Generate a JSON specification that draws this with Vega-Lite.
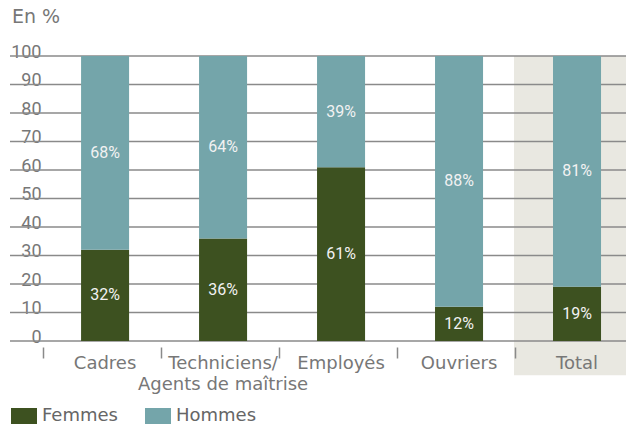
{
  "$schema": "https://vega.github.io/schema/vega-lite/v6.json",
  "width": 616,
  "height": 285,
  "autosize": {"type": "none"},
  "padding": {"left": 10, "top": 56, "right": 0, "bottom": 84},
  "background": "white",
  "config": {
    "view": {"stroke": null},
    "font": "Roboto",
    "axisY": {"grid": false, "domain": false, "ticks": false, "tickSize": 0, "labelAlign": "right", "labelBaseline": "alphabetic", "labelPadding": -31, "labelOffset": 1, "labelFontSize": 18, "labelFont": "Roboto", "labelColor": "#777777", "labelFlush": false, "labelOverlap": false, "zindex": 1}
  },
  "title": {"text": "En %", "anchor": "start", "frame": "group", "fontSize": 19, "font": "DejaVu Sans", "fontWeight": "normal", "color": "#777777", "offset": 16, "dx": 2},
  "data": {"values": [
    {"cat": "Cadres", "sexe": "Femmes", "v": 32, "ord": 1},
    {"cat": "Cadres", "sexe": "Hommes", "v": 68, "ord": 2},
    {"cat": "Techniciens/Agents de maîtrise", "sexe": "Femmes", "v": 36, "ord": 1},
    {"cat": "Techniciens/Agents de maîtrise", "sexe": "Hommes", "v": 64, "ord": 2},
    {"cat": "Employés", "sexe": "Femmes", "v": 61, "ord": 1},
    {"cat": "Employés", "sexe": "Hommes", "v": 39, "ord": 2},
    {"cat": "Ouvriers", "sexe": "Femmes", "v": 12, "ord": 1},
    {"cat": "Ouvriers", "sexe": "Hommes", "v": 88, "ord": 2},
    {"cat": "Total", "sexe": "Femmes", "v": 19, "ord": 1},
    {"cat": "Total", "sexe": "Hommes", "v": 81, "ord": 2}
  ]},
  "encoding": {
    "x": {"field": "cat", "type": "nominal",
      "scale": {"domain": ["Cadres", "Techniciens/Agents de maîtrise", "Employés", "Ouvriers", "Total"], "paddingInner": 0.593, "paddingOuter": 0.407, "align": 0.74},
      "axis": {"title": null, "domain": false, "offset": 6, "tickSize": 11, "tickColor": "#8a8a8a", "tickWidth": 1.5, "bandPosition": -0.78, "labelAngle": 0, "labelFontSize": 18, "labelFont": "DejaVu Sans", "labelColor": "#777777", "labelPadding": -4, "labelLineHeight": 21,
        "labelExpr": "datum.value == 'Techniciens/Agents de maîtrise' ? ['Techniciens/', 'Agents de maîtrise'] : datum.value", "zindex": 1}}
  },
  "layer": [
    {
      "data": {"values": [{"cat": "Total"}]},
      "mark": {"type": "bar", "color": "#e9e8e1", "width": {"band": 2.625}},
      "encoding": {
        "y": {"datum": 100, "type": "quantitative", "title": null, "scale": {"domain": [0, 100], "nice": false}, "axis": {"values": [0, 10, 20, 30, 40, 50, 60, 70, 80, 90, 100]}},
        "y2": {"datum": -12}
      }
    },
    {
      "data": {"values": [{"g": 0}, {"g": 10}, {"g": 20}, {"g": 30}, {"g": 40}, {"g": 50}, {"g": 60}, {"g": 70}, {"g": 80}, {"g": 90}, {"g": 100}]},
      "mark": {"type": "rule", "color": "#8a8a8a", "strokeWidth": 1.5},
      "encoding": {
        "x": null,
        "y": {"field": "g", "type": "quantitative", "title": null, "axis": {"values": [0, 10, 20, 30, 40, 50, 60, 70, 80, 90, 100]}}
      }
    },
    {
      "mark": {"type": "bar"},
      "encoding": {
        "y": {"field": "v", "type": "quantitative", "stack": "zero", "title": null, "axis": {"values": [0, 10, 20, 30, 40, 50, 60, 70, 80, 90, 100]}},
        "order": {"field": "ord"},
        "color": {"field": "sexe", "type": "nominal",
          "scale": {"domain": ["Femmes", "Hommes"], "range": ["#3d5120", "#74a5aa"]},
          "legend": {"orient": "none", "legendX": 0, "legendY": 351, "direction": "horizontal", "title": null,
            "symbolType": "M-1.625,-1H1.625V1H-1.625Z", "symbolSize": 256, "symbolStrokeWidth": 0, "symbolOpacity": 1,
            "symbolOffset": 5, "labelOffset": 9, "labelFontSize": 18, "labelFont": "DejaVu Sans", "labelColor": "#666666", "columnPadding": 26}}
      }
    },
    {
      "transform": [
        {"stack": "v", "groupby": ["cat"], "sort": [{"field": "ord"}], "as": ["v0", "v1"]},
        {"calculate": "(datum.v0 + datum.v1) / 2", "as": "mid"},
        {"calculate": "datum.v + '%'", "as": "label"}
      ],
      "mark": {"type": "text", "color": "#f2f2f2", "fontSize": 16, "font": "Roboto", "baseline": "middle"},
      "encoding": {
        "y": {"field": "mid", "type": "quantitative", "title": null, "axis": {"values": [0, 10, 20, 30, 40, 50, 60, 70, 80, 90, 100]}},
        "text": {"field": "label"}
      }
    }
  ]
}
